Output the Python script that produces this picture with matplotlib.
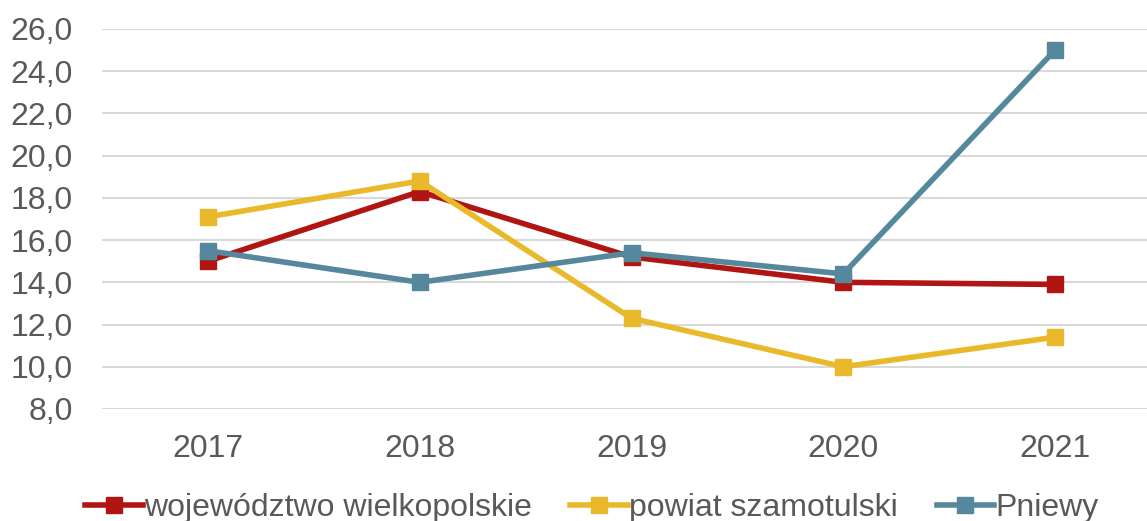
import matplotlib.pyplot as plt

plt.rcParams['font.family'] = ['Liberation Sans', 'DejaVu Sans']

years = ['2017', '2018', '2019', '2020', '2021']
wielkopolskie = [15.0, 18.3, 15.2, 14.0, 13.9]
szamotulski = [17.1, 18.8, 12.3, 10.0, 11.4]
pniewy = [15.5, 14.0, 15.4, 14.4, 25.0]

series = [
    ('województwo wielkopolskie', wielkopolskie, '#B01513'),
    ('powiat szamotulski', szamotulski, '#EAB92B'),
    ('Pniewy', pniewy, '#55879D'),
]

fig = plt.figure(figsize=(11.47, 5.21), dpi=100)
ax = fig.add_axes([102 / 1147, 112 / 521, (1161 - 102) / 1147, 380 / 521])

x = range(len(years))
for label, vals, colour in series:
    ax.plot(x, vals, color=colour, lw=4, marker='s', markersize=11,
            label=label, zorder=3, solid_joinstyle='miter')

ax.set_xlim(-0.5, len(years) - 0.5)
ax.set_ylim(8, 26)
yt = [8 + 2 * i for i in range(10)]
ax.set_yticks(yt)
ax.set_yticklabels([f'{v:.1f}'.replace('.', ',') for v in yt])
ax.set_xticks(list(x))
ax.set_xticklabels(years)

ax.grid(axis='y', color='#D9D9D9', lw=1.5, zorder=0)
for s in ax.spines.values():
    s.set_visible(False)
ax.tick_params(length=0, labelsize=23, colors='#595959')
ax.tick_params(axis='y', pad=21)
ax.tick_params(axis='x', pad=18)

fig.legend(loc='center', bbox_to_anchor=(592 / 1147, 1 - 508 / 521), ncol=3,
           frameon=False, fontsize=23, labelcolor='#595959', handlelength=1.8,
           handletextpad=0.05, columnspacing=1.2, borderaxespad=0)

fig.savefig('out.png', dpi=100)
